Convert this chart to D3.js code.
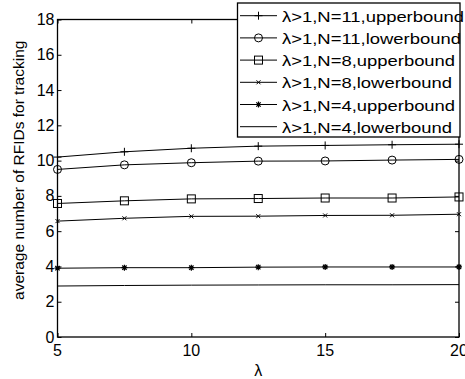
<!DOCTYPE html>
<html>
<head>
<meta charset="utf-8">
<script src="https://cdn.jsdelivr.net/npm/d3@7"></script>
<style>
  body { margin: 0; background: #fff; }
  text { font-family: "Liberation Sans", Arial, sans-serif; fill: #000; }
</style>
</head>
<body>
<svg id="chart" width="465" height="379"></svg>
<script>
// x values (lambda)
var lambdas = [5, 7.5, 10, 12.5, 15, 17.5, 20];

// series values
var n11Upper = [10.2, 10.5, 10.7, 10.82, 10.86, 10.9, 10.93];
var n11Lower = [9.5, 9.76, 9.88, 9.97, 9.98, 10.03, 10.07];
var n8Upper = [7.57, 7.72, 7.83, 7.85, 7.88, 7.88, 7.94];
var n8Lower = [6.57, 6.73, 6.84, 6.85, 6.89, 6.9, 6.96];
var n4Upper = [3.9, 3.93, 3.93, 3.96, 3.97, 3.97, 3.97];
var n4Lower = [2.89, 2.92, 2.94, 2.95, 2.96, 2.96, 2.97];

var seriesNames = ["\u03bb>1,N=11,upperbound", "\u03bb>1,N=11,lowerbound",
                   "\u03bb>1,N=8,upperbound", "\u03bb>1,N=8,lowerbound",
                   "\u03bb>1,N=4,upperbound", "\u03bb>1,N=4,lowerbound"];
var markers = ["plus", "circle", "square", "cross", "star", "none"];
var seriesValues = [n11Upper, n11Lower, n8Upper, n8Lower, n4Upper, n4Lower];

var xTicks = [5, 10, 15, 20];
var yTicks = [0, 2, 4, 6, 8, 10, 12, 14, 16, 18];

var margin = {left: 57.5, right: 6, top: 19.5, bottom: 42};
var width = 465, height = 379;

var svg = d3.select("#chart");

var x = d3.scaleLinear().domain([5, 20]).range([margin.left, width - margin.right]);
var y = d3.scaleLinear().domain([0, 18]).range([height - margin.bottom, margin.top]);

var x0 = x.range()[0], x1 = x.range()[1];
var y0 = y.range()[0], y1 = y.range()[1];

// axes, ticks pointing inward, mirrored on top/right
svg.append("g")
   .attr("transform", "translate(0," + y0 + ")")
   .call(d3.axisBottom(x).tickValues(xTicks).tickSizeInner(-4).tickSizeOuter(0).tickFormat(""));
svg.append("g")
   .attr("transform", "translate(0," + y1 + ")")
   .call(d3.axisTop(x).tickValues(xTicks).tickSizeInner(-4).tickSizeOuter(0).tickFormat(""));
svg.append("g")
   .attr("transform", "translate(" + x0 + ",0)")
   .call(d3.axisLeft(y).tickValues(yTicks).tickSizeInner(-4).tickSizeOuter(0).tickFormat(""));
svg.append("g")
   .attr("transform", "translate(" + x1 + ",0)")
   .call(d3.axisRight(y).tickValues(yTicks).tickSizeInner(-4).tickSizeOuter(0).tickFormat(""));
svg.selectAll(".domain").remove();
svg.selectAll(".tick line").attr("stroke", "#000").attr("stroke-width", 1);

svg.append("rect")
   .attr("x", x0).attr("y", y1)
   .attr("width", x1 - x0).attr("height", y0 - y1)
   .attr("fill", "none").attr("stroke", "#000").attr("stroke-width", 1.3);

// text in the original is stretched sideways a bit
function label(g, tx, ty, str, anchor, size, sx) {
  g.append("text")
   .attr("transform", "translate(" + tx + "," + ty + ") scale(" + sx + ",1)")
   .attr("text-anchor", anchor)
   .style("font-size", size + "px")
   .text(str);
}
var labels = svg.append("g");
xTicks.forEach(function(v){ label(labels, x(v), y0 + 19, v, "middle", 16, 1); });
yTicks.forEach(function(v){ label(labels, x0 - 3, y(v) + 5.5, v, "end", 16, 1); });

// axis titles
label(labels, x(12.5), height - 3, "\u03bb", "middle", 16, 1);
svg.append("text")
   .attr("transform", "translate(24," + ((y0 + y1) / 2 - 8) + ") rotate(-90)")
   .attr("text-anchor", "middle")
   .style("font-size", "15.5px")
   .text("average number of RFIDs for tracking");

// marker drawing
function drawMarker(g, type, cx, cy) {
  var s = g.append("g").attr("transform", "translate(" + cx + "," + cy + ")")
           .attr("stroke", "#000").attr("fill", "none").attr("stroke-width", 1);
  if (type == "plus") {
    s.append("path").attr("d", "M-4,0H4M0,-4V4");
  } else if (type == "circle") {
    s.append("circle").attr("r", 4);
  } else if (type == "square") {
    s.append("rect").attr("x", -4).attr("y", -4).attr("width", 8).attr("height", 8);
  } else if (type == "cross") {
    s.append("path").attr("d", "M-2,-2L2,2M-2,2L2,-2");
  } else if (type == "star") {
    s.append("path").attr("d", "M-3,0H3M0,-3V3M-2.2,-2.2L2.2,2.2M-2.2,2.2L2.2,-2.2").attr("stroke-width", 1.2);
  }
}

var line = d3.line()
  .x(function(d, i){ return x(lambdas[i]); })
  .y(function(d){ return y(d); });

var plot = svg.append("g");
seriesValues.forEach(function(vals, k){
  plot.append("path")
      .attr("d", line(vals))
      .attr("fill", "none").attr("stroke", "#000").attr("stroke-width", 1);
  vals.forEach(function(v, i){ drawMarker(plot, markers[k], x(lambdas[i]), y(v)); });
});

// legend
var lg = svg.append("g");
lg.append("rect")
  .attr("x", 237.5).attr("y", 3).attr("width", 222.5).attr("height", 134)
  .attr("fill", "#fff").attr("stroke", "#000").attr("stroke-width", 1.3);
seriesNames.forEach(function(name, k){
  var ly = 15.7 + k * 22.2;
  lg.append("line").attr("x1", 240).attr("x2", 277).attr("y1", ly).attr("y2", ly)
    .attr("stroke", "#000").attr("stroke-width", 1);
  drawMarker(lg, markers[k], 258.5, ly);
  label(lg, 282, ly + 6, name, "start", 15.5, 1.19);
});
</script>
</body>
</html>
